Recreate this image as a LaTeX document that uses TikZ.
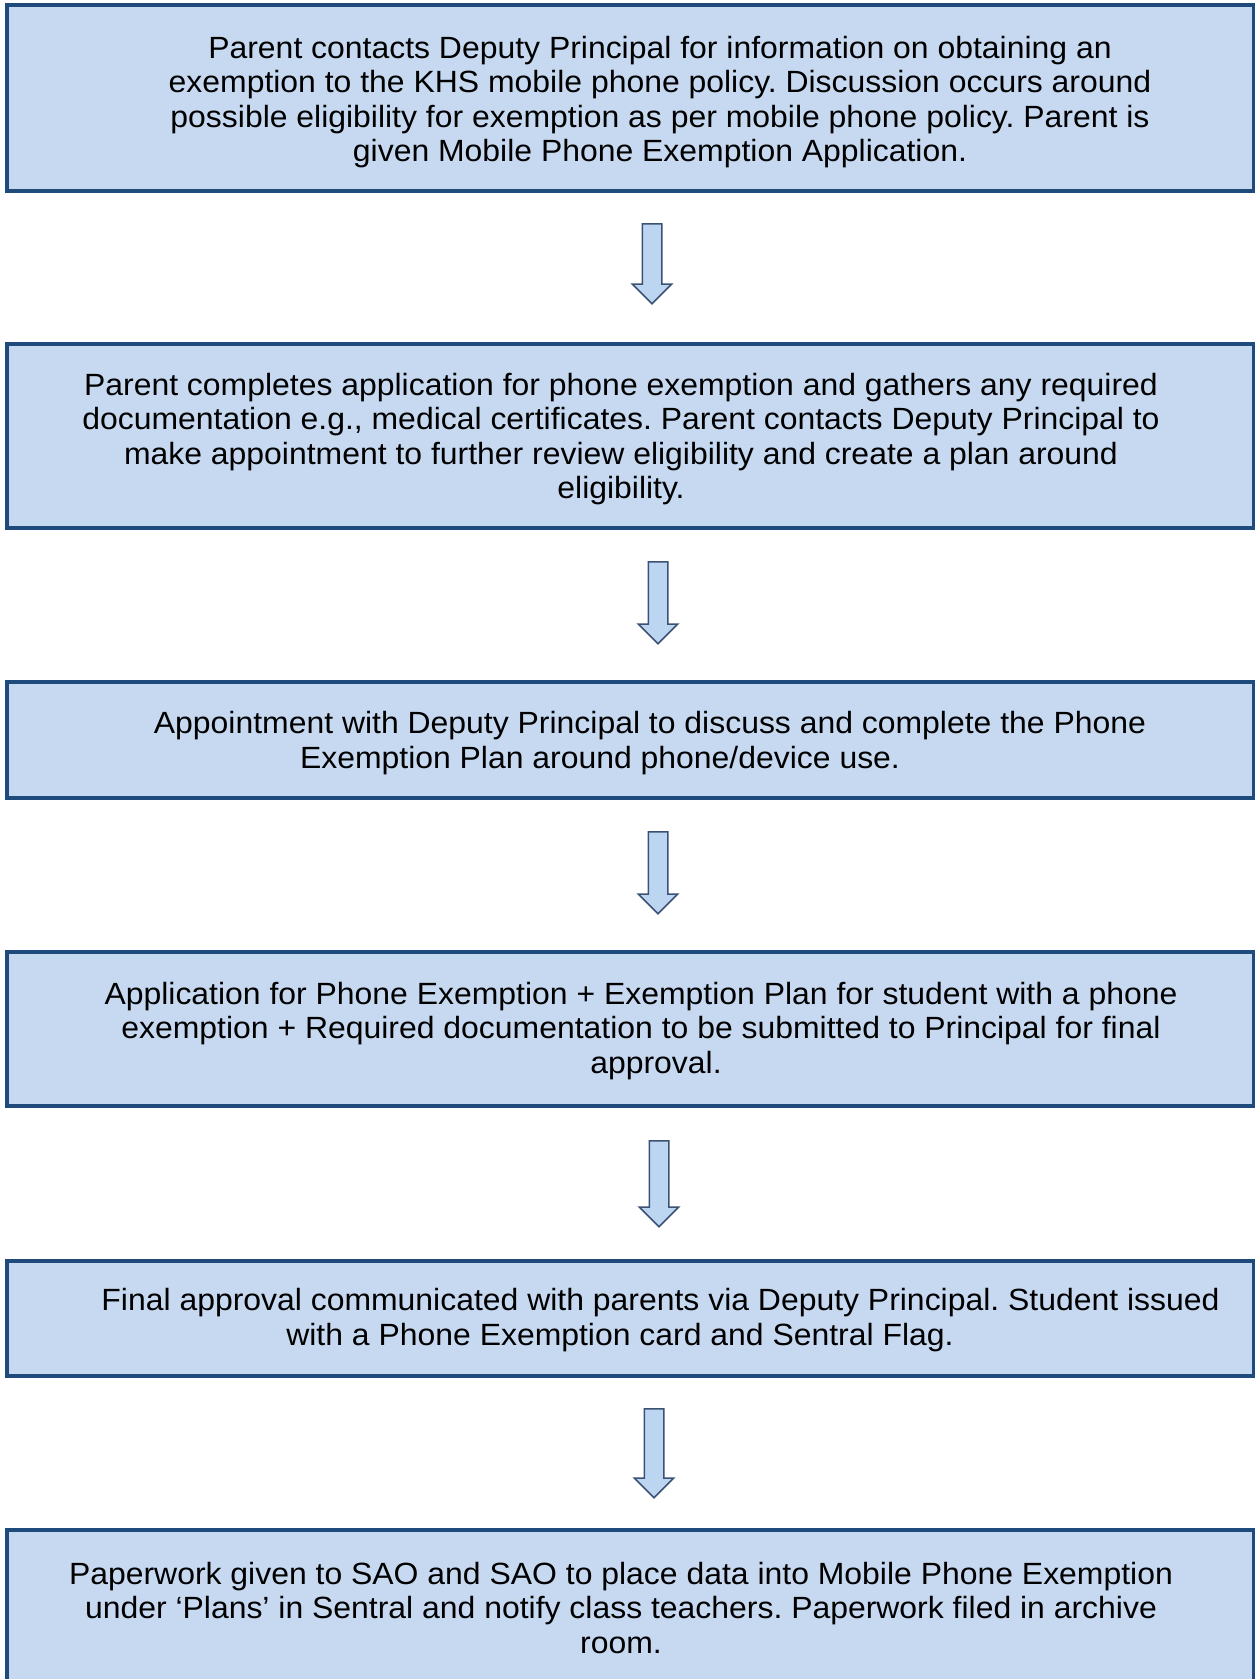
\documentclass[tikz,border=0pt]{standalone}
\usepackage{fontspec}
\setmainfont[FakeStretch=1.04]{Liberation Sans}
\usepackage{tikz}
\usetikzlibrary{positioning}
\usetikzlibrary{shapes.arrows}
\usepackage{xcolor}
\frenchspacing

\definecolor{boxfill}{HTML}{C6D9F1}
\definecolor{boxline}{HTML}{1F4A7C}
\definecolor{arrowfill}{HTML}{BCD5F1}
\definecolor{arrowline}{HTML}{3B5275}

\begin{document}
\begin{tikzpicture}[
    x=1pt, y=-1pt,
    stepbox/.style={
        draw=boxline,
        fill=boxfill,
        line width=3.3pt
    },
    steptext/.style={
        align=center,
        inner sep=0pt,
        font=\fontsize{30.7pt}{34.3pt}\selectfont
    },
    down arrow/.style={
        single arrow,
        draw=arrowline,
        fill=arrowfill,
        line width=1.5pt,
        rotate=-90,
        anchor=tail,
        inner sep=9pt,
        single arrow head extend=10pt
    }
  ]

  \useasboundingbox (0,0) rectangle (1255,1679);

  % boxes
  \coordinate (box1_nw) at (7,5);
  \coordinate (box1_se) at (1254,191);
  \coordinate (box2_nw) at (7,344);
  \coordinate (box2_se) at (1254,528);
  \coordinate (box3_nw) at (7,682);
  \coordinate (box3_se) at (1254,798);
  \coordinate (box4_nw) at (7,952);
  \coordinate (box4_se) at (1254,1106);
  \coordinate (box5_nw) at (7,1261);
  \coordinate (box5_se) at (1254,1376);
  \coordinate (box6_nw) at (7,1530);
  \coordinate (box6_se) at (1254,1684);

  \draw[stepbox] (box1_nw) rectangle (box1_se);
  \draw[stepbox] (box2_nw) rectangle (box2_se);
  \draw[stepbox] (box3_nw) rectangle (box3_se);
  \draw[stepbox] (box4_nw) rectangle (box4_se);
  \draw[stepbox] (box5_nw) rectangle (box5_se);
  \draw[stepbox] (box6_nw) rectangle (box6_se);

  \node[steptext] (contact) at (660,102) {Parent contacts Deputy Principal for information on obtaining an\\
    exemption to the KHS mobile phone policy. Discussion occurs around\\
    possible eligibility for exemption as per mobile phone policy. Parent is\\
    given Mobile Phone Exemption Application.};

  \node[steptext] (complete) at (621,439) {Parent completes application for phone exemption and gathers any required\\
    documentation e.g., medical certificates. Parent contacts Deputy Principal to\\
    make appointment to further review eligibility and create a plan around\\
    eligibility.};

  \node[steptext] (meeting) at (600,743) {\hspace*{100pt}Appointment with Deputy Principal to discuss and complete the Phone\\
    Exemption Plan around phone/device use.};

  \node[steptext] (submit) at (641,1031) {Application for Phone Exemption + Exemption Plan for student with a phone\\
    exemption + Required documentation to be submitted to Principal for final\\
    \hspace*{30pt}approval.};

  \node[steptext] (approval) at (620,1320) {\hspace*{81pt}Final approval communicated with parents via Deputy Principal. Student issued\\
    with a Phone Exemption card and Sentral Flag.};

  \node[steptext] (paperwork) at (621,1608) {Paperwork given to SAO and SAO to place data into Mobile Phone Exemption\\
    under `Plans' in Sentral and notify class teachers. Paperwork filed in archive\\
    room.};

  % arrows between the steps
  \node[down arrow, minimum height=80pt] (arr1) at (652,223) {};
  \node[down arrow, minimum height=82pt] (arr2) at (658,561) {};
  \node[down arrow, minimum height=82pt] (arr3) at (658,831) {};
  \node[down arrow, minimum height=86pt] (arr4) at (659,1140) {};
  \node[down arrow, minimum height=89pt] (arr5) at (654,1408) {};

\end{tikzpicture}
\end{document}
